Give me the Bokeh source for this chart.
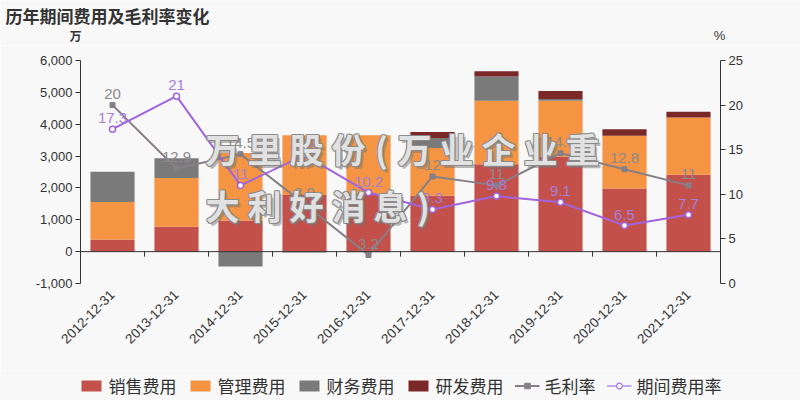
import math
from bokeh.plotting import figure
from bokeh.layouts import column
from bokeh.models import (ColumnDataSource, Range1d, LinearAxis, FixedTicker,
                          NumeralTickFormatter, Span, Legend, LegendItem, FactorRange)
from bokeh.transform import dodge
from bokeh.core.properties import value
from bokeh.embed import file_html
from bokeh.resources import INLINE

# ---------------- data ----------------
years = ["2012-12-31", "2013-12-31", "2014-12-31", "2015-12-31", "2016-12-31",
         "2017-12-31", "2018-12-31", "2019-12-31", "2020-12-31", "2021-12-31"]
sales = [380, 785, 980, 1780, 1810, 1757, 2740, 2980, 1985, 2410]          # 销售费用
admin = [1180, 1530, 2120, 1870, 1840, 1500, 1995, 1755, 1650, 1800]       # 管理费用
finance = [950, 620, -470, -30, -20, 310, 760, 55, 0, 0]                   # 财务费用
rnd = [0, 0, 0, 0, 0, 190, 165, 250, 205, 185]                             # 研发费用
gross_margin = [20, 12.9, 14.5, 8.9, 3.2, 12, 11, 14.6, 12.8, 11]          # 毛利率
expense_rate = [17.3, 21, 11, 14.4, 10.2, 8.3, 9.8, 9.1, 6.5, 7.7]         # 期间费用率
left_ticks = [-1000, 0, 1000, 2000, 3000, 4000, 5000, 6000]
right_ticks = [0, 5, 10, 15, 20, 25]
series_names = ["销售费用", "管理费用", "财务费用", "研发费用"]
line_names = ["毛利率", "期间费用率"]
title_text = "历年期间费用及毛利率变化"
unit_names = ["万", "%"]
watermark_lines = ["万里股份(万业企业重", "大利好消息)"]

# ---------------- style ----------------
BG = "#f8f8f8"
bar_colors = ["#c4504c", "#f59442", "#7a7a7a", "#7a2828"]
GROSS_C = "#868086"
EXP_C = "#a064dc"
CJK = "Noto Sans CJK SC"
NUM = "Liberation Sans"

W, H = 800, 400
TOP_H, LEG_H = 45, 30
FL, FR, FT, FB = 80, 720, 60, 283       # frame edges in page pixels
YMIN, YMAX = -1000, 6000
MAIN_H = H - TOP_H - LEG_H

def sx_to_x(sx):
    return (sx - FL) / (FR - FL) * len(years)

def sy_to_y(sy):
    return YMIN + (FB - sy) / (FB - FT) * (YMAX - YMIN)

px_per_unit = (FB - FT) / (YMAX - YMIN)

def style_bg(fig):
    fig.background_fill_color = BG
    fig.border_fill_color = BG
    fig.outline_line_color = None

# ---------------- header (title + axis unit names) ----------------
top = figure(width=W, height=TOP_H, x_range=Range1d(0, W), y_range=Range1d(TOP_H, 0),
             x_axis_type=None, y_axis_type=None, output_backend="svg", toolbar_location=None,
             min_border=0)
top.frame_align = False
style_bg(top)
top.grid.visible = False
top.text(x=[5], y=[15], text=[title_text], text_align="left", text_baseline="middle",
         text_font=value(CJK), text_font_size="17px", text_font_style="bold",
         text_color="#333333")
top.text(x=[75], y=[35], text=[unit_names[0]], text_align="center", text_baseline="middle",
         text_font=value(CJK), text_font_size="12px", text_font_style="bold",
         text_color="#333333")
top.text(x=[719], y=[35], text=[unit_names[1]], text_align="center", text_baseline="middle",
         text_font=value(NUM), text_font_size="13px", text_color="#333333")

# ---------------- main chart ----------------
p = figure(width=W, height=MAIN_H, x_range=FactorRange(*years), y_range=Range1d(YMIN, YMAX),
           output_backend="svg", toolbar_location=None,
           min_border_left=FL, min_border_right=W - FR, min_border_top=FT - TOP_H,
           min_border_bottom=(H - LEG_H) - FB)
p.extra_y_ranges = {"pct": Range1d(0, 25)}
style_bg(p)
p.xgrid.visible = False
p.ygrid.visible = False

pos_base = [0.0] * len(years)
neg_base = [0.0] * len(years)
bar_renderers = []
for name, vals, col in zip(series_names, [sales, admin, finance, rnd], bar_colors):
    bottoms, tops = [], []
    for i, v in enumerate(vals):
        if v >= 0:
            b = pos_base[i]; t = b + v; pos_base[i] = t
        else:
            b = neg_base[i]; t = b + v; neg_base[i] = t
        bottoms.append(b); tops.append(t)
    src = ColumnDataSource(dict(year=years, bottom=bottoms, top=tops))
    r = p.vbar(x="year", bottom="bottom", top="top", width=0.69, source=src,
               fill_color=col, line_color=None)
    bar_renderers.append(r)

# zero axis line and category boundary ticks
p.add_layout(Span(location=0, dimension="width", line_color="#333333", line_width=1))
tick_src = ColumnDataSource(dict(year=years, y0=[0] * len(years),
                                 y1=[-5 / px_per_unit] * len(years)))
p.segment(x0=dodge("year", -0.5, range=p.x_range), x1=dodge("year", -0.5, range=p.x_range),
          y0="y0", y1="y1", source=tick_src, line_color="#333333", line_width=1)

def fmt(v):
    return ("%g" % v)

g_src = ColumnDataSource(dict(year=years, v=gross_margin, lab=[fmt(v) for v in gross_margin]))
e_src = ColumnDataSource(dict(year=years, v=expense_rate, lab=[fmt(v) for v in expense_rate]))

p.line(x="year", y="v", source=g_src, y_range_name="pct", line_color=GROSS_C, line_width=2)
p.scatter(x="year", y="v", source=g_src, y_range_name="pct", marker="square", size=5,
          fill_color=GROSS_C, line_color=GROSS_C)
p.line(x="year", y="v", source=e_src, y_range_name="pct", line_color=EXP_C, line_width=2)
p.scatter(x="year", y="v", source=e_src, y_range_name="pct", marker="circle", size=6,
          fill_color="white", line_color=EXP_C, line_width=1.5)

p.text(x="year", y="v", text="lab", source=g_src, y_range_name="pct", y_offset=-6,
       text_align="center", text_baseline="bottom", text_color="#8a8a8a",
       text_font=value(NUM), text_font_size="15px")
p.text(x="year", y="v", text="lab", source=e_src, y_range_name="pct", y_offset=-6,
       text_align="center", text_baseline="bottom", text_color="#a67fd8",
       text_font=value(NUM), text_font_size="15px")

p.yaxis.ticker = FixedTicker(ticks=left_ticks)
p.yaxis.formatter = NumeralTickFormatter(format="0,0")
ra = LinearAxis(y_range_name="pct", ticker=FixedTicker(ticks=right_ticks))
p.add_layout(ra, "right")
for ax in [p.yaxis[0], ra]:
    ax.axis_line_color = "#333333"
    ax.major_tick_line_color = "#333333"
    ax.major_tick_out = 5
    ax.major_tick_in = 0
    ax.minor_tick_line_color = None
    ax.major_label_text_font = NUM
    ax.major_label_text_font_size = "13px"
    ax.major_label_text_color = "#333333"
    ax.major_label_standoff = 3

xa = p.xaxis[0]
xa.axis_line_color = None
xa.major_tick_line_color = None
xa.major_tick_out = 0
xa.major_tick_in = 0
xa.major_label_orientation = math.pi / 4
xa.major_label_text_font = NUM
xa.major_label_text_font_size = "13.5px"
xa.major_label_text_color = "#333333"
xa.major_label_standoff = 9

# watermark (outlined text)
wm_x, wm_y, wm_c = [], [], []
for line, sy in zip(watermark_lines, [148, 205]):
    cursor = 201
    for ch in line:
        w = 24 if ch in "()" else 42
        wm_x.append(sx_to_x(cursor + w / 2))
        wm_y.append(sy_to_y(sy))
        wm_c.append(ch)
        cursor += w
wm_src = ColumnDataSource(dict(x=wm_x, y=wm_y, t=wm_c))
p.text(x="x", y="y", text="t", source=wm_src, x_offset=2.5, y_offset=2.5,
       text_align="center", text_baseline="middle", text_font=value(CJK),
       text_font_size="34px", text_font_style="bold", text_color="#777777", text_alpha=0.5)
for dx in (-1, 0, 1):
    for dy in (-1, 0, 1):
        if dx == 0 and dy == 0:
            continue
        p.text(x="x", y="y", text="t", source=wm_src, x_offset=dx, y_offset=dy,
               text_align="center", text_baseline="middle", text_font=value(CJK),
               text_font_size="34px", text_font_style="bold", text_color="#8a8a8a",
               text_alpha=0.8)
p.text(x="x", y="y", text="t", source=wm_src, text_align="center", text_baseline="middle",
       text_font=value(CJK), text_font_size="34px", text_font_style="bold",
       text_color="#ffffff", text_alpha=0.75)

# ---------------- legend strip ----------------
lf = figure(width=W, height=LEG_H, x_range=Range1d(0, 1), y_range=Range1d(0, 1),
            x_axis_type=None, y_axis_type=None, output_backend="svg", toolbar_location=None,
            min_border=0)
lf.frame_align = False
style_bg(lf)
lf.grid.visible = False
# legend swatch renderers: one point each, placed outside the visible range
hidden = ColumnDataSource(dict(x=[-5], y=[-5], top=[-5]))
leg_bars = [lf.vbar(x="x", top="top", width=0.1, source=hidden, fill_color=c, line_color=None)
            for c in bar_colors]
l1 = lf.line(x="x", y="y", source=hidden, line_color=GROSS_C, line_width=2)
m1 = lf.scatter(x="x", y="y", source=hidden, marker="square", size=7,
                fill_color=GROSS_C, line_color=GROSS_C)
l2 = lf.line(x="x", y="y", source=hidden, line_color="#b48ee6", line_width=1.5)
m2 = lf.scatter(x="x", y="y", source=hidden, marker="circle", size=9,
                fill_color="white", line_color="#a978e0", line_width=1.2)
items = [LegendItem(label=n, renderers=[r]) for n, r in zip(series_names, leg_bars)]
items.append(LegendItem(label=line_names[0], renderers=[l1, m1]))
items.append(LegendItem(label=line_names[1], renderers=[l2, m2]))
legend = Legend(items=items, orientation="horizontal", location="center",
                glyph_width=25, glyph_height=14, label_standoff=5, spacing=11,
                padding=0, margin=0, background_fill_alpha=0, border_line_color=None,
                label_text_font=CJK, label_text_font_size="17px", label_text_color="#333333")
lf.add_layout(legend)

layout = column(top, p, lf, spacing=0)
open("out.html", "w").write(file_html(layout, INLINE))
